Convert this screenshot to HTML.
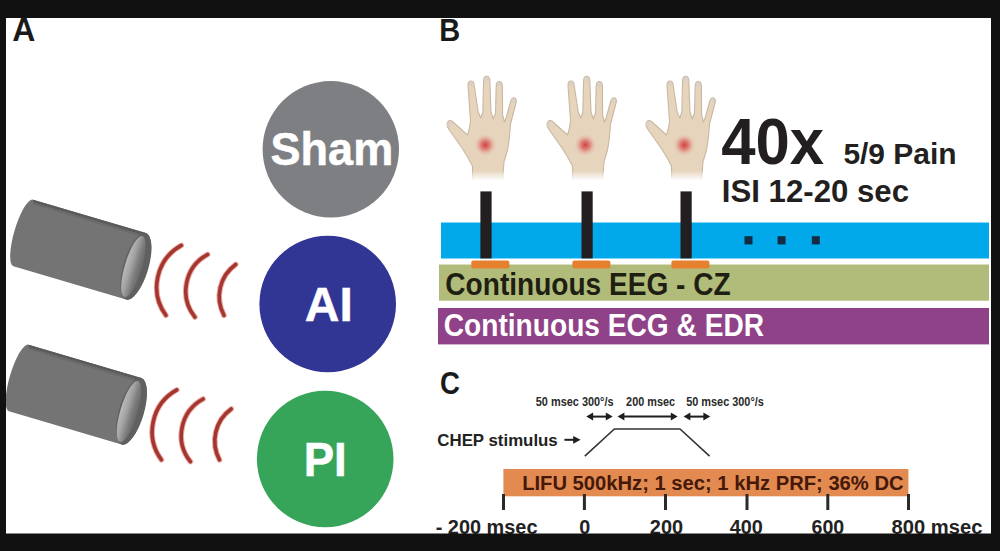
<!DOCTYPE html>
<html><head><meta charset="utf-8">
<style>
html,body{margin:0;padding:0;background:#111;}
body{width:1000px;height:551px;overflow:hidden;position:relative;}
svg{position:absolute;left:0;top:0;display:block;}
text{font-family:"Liberation Sans",sans-serif;font-weight:bold;}
</style></head><body>
<svg width="1000" height="551" viewBox="0 0 1000 551">
<defs>
  <linearGradient id="wfade" x1="0" y1="0" x2="0" y2="1">
    <stop offset="0" stop-color="#fff" stop-opacity="0"/>
    <stop offset="1" stop-color="#fff" stop-opacity="0.95"/>
  </linearGradient>
  <radialGradient id="spot" cx="0.5" cy="0.5" r="0.5">
    <stop offset="0" stop-color="#cf3a3a" stop-opacity="0.95"/>
    <stop offset="0.4" stop-color="#d9605a" stop-opacity="0.7"/>
    <stop offset="0.75" stop-color="#e4a090" stop-opacity="0.3"/>
    <stop offset="1" stop-color="#ecc8b4" stop-opacity="0"/>
  </radialGradient>
  <linearGradient id="face" x1="0" y1="0" x2="1" y2="0">
    <stop offset="0" stop-color="#bababa"/>
    <stop offset="0.35" stop-color="#a3a3a3"/>
    <stop offset="0.7" stop-color="#7c7c7c"/>
    <stop offset="1" stop-color="#686868"/>
  </linearGradient>
  <g id="cyl">
    <path d="M0,-34.7 L117.6,-34.7 A12 34.7 0 0 1 117.6 34.7 L0 34.7 A9 34.7 0 0 1 0 -34.7 Z" fill="#747475"/>
    <path d="M0,-34.7 L117.6,-34.7 L117.6,-32 L0.8,-32 Z" fill="#5a5a5a"/>
    <path d="M0.8,-32 L117.6,-32 L117.6,-30 L1.5,-30 Z" fill="#6a6a6b"/>
    <ellipse cx="117.6" cy="0" rx="12.5" ry="34.7" fill="#606060"/>
    <ellipse cx="115.2" cy="1" rx="8.6" ry="31.8" fill="url(#face)"/>
  </g>
  <g id="waves" fill="none" stroke-linecap="round">
  <g stroke="#e8aaa2" stroke-width="5.6">
    <path d="M181.3,245.4 A47.7 47.7 0 0 0 165.9 315.3"/>
    <path d="M207.6,254.5 A41.6 41.6 0 0 0 194.9 317.1"/>
    <path d="M235.7,264.5 A39.5 39.5 0 0 0 224 315.3"/>
  </g>
  <g stroke="#a5352f" stroke-width="3.6">
    <path d="M181.3,245.4 A47.7 47.7 0 0 0 165.9 315.3"/>
    <path d="M207.6,254.5 A41.6 41.6 0 0 0 194.9 317.1"/>
    <path d="M235.7,264.5 A39.5 39.5 0 0 0 224 315.3"/>
  </g>
  </g>
  <g id="hand">
    <path d="M472.7,179 L472.5,166 Q468,157 462,148 L449,129.5 Q445.5,124.5 448,121.5 Q450,119.5 452.5,121.5 L467.5,135 Q470,128 470.5,121 L468,85.5 Q468,81 471,81 Q474,81 474.2,85.5 L478.2,112 L480.8,118 L482.8,112 L483.6,80.5 Q483.8,76.3 486.7,76.3 Q489.6,76.3 489.8,80.5 L491,112 L493.3,119 L495.5,113 L496.2,86 Q496.4,81.5 499.3,81.5 Q502.2,81.5 502.4,86 L502.6,115 L504.5,122 L506.3,117.5 L510.8,101 Q511.8,97.6 514,97.8 Q516.8,98.4 516.3,102 L510.5,124 Q509.5,140 507.5,150 Q505.5,157 504,161.7 L502.6,179 Z"
      fill="#e6d4bd" stroke="#c9b8a0" stroke-width="1.1" stroke-linejoin="round"/>
    <ellipse cx="471.1" cy="84" rx="2.3" ry="2.3" fill="#d9d1c7"/>
    <ellipse cx="486.7" cy="79.2" rx="2.3" ry="2.3" fill="#d9d1c7"/>
    <ellipse cx="499.3" cy="84.3" rx="2.3" ry="2.3" fill="#d9d1c7"/>
    <ellipse cx="513.6" cy="100.5" rx="2.3" ry="2.2" fill="#d9d1c7"/>
    <ellipse cx="448.8" cy="124" rx="2.2" ry="2.2" fill="#d9d1c7"/>
    <circle cx="485.3" cy="145" r="11.5" fill="url(#spot)"/>
    <rect x="470" y="170.5" width="36" height="9.5" fill="url(#wfade)"/>
  </g>
</defs>

<!-- white canvas -->
<rect x="6" y="18" width="985" height="516" fill="#fff"/>

<!-- Panel A -->
<use href="#cyl" transform="translate(23.25,232.9) rotate(16.5)"/>
<use href="#cyl" transform="translate(18.75,377.9) rotate(16.5)"/>
<use href="#waves"/>
<use href="#waves" transform="translate(-4.5,144.5)"/>

<circle cx="330.8" cy="149.3" r="68.2" fill="#7e7f83"/>
<circle cx="327.7" cy="304" r="68.3" fill="#313594"/>
<circle cx="325.2" cy="459" r="68.3" fill="#36a55a"/>

<!-- Panel B -->
<use href="#hand"/>
<use href="#hand" transform="translate(100,0)"/>
<use href="#hand" transform="translate(199,0)"/>

<rect x="441" y="222.5" width="548" height="36" fill="#02a9ea"/>
<rect x="480.4" y="191.4" width="11.2" height="67" fill="#231f20"/>
<rect x="581.5" y="191.4" width="11.2" height="67" fill="#231f20"/>
<rect x="680.5" y="191.4" width="11.2" height="67" fill="#231f20"/>
<rect x="439" y="264.5" width="550" height="36.2" fill="#b1bb7a"/>
<rect x="471.3" y="260.5" width="38" height="8" rx="2" fill="#e5802e"/>
<rect x="572.4" y="260.5" width="38" height="8" rx="2" fill="#e5802e"/>
<rect x="671.4" y="260.5" width="38" height="8" rx="2" fill="#e5802e"/>
<rect x="438" y="308" width="551" height="36.4" fill="#904288"/>

<rect x="744.5" y="236.2" width="8" height="8.2" fill="#112c44"/>
<rect x="777.6" y="236.2" width="8" height="8.2" fill="#112c44"/>
<rect x="811.8" y="236.2" width="8" height="8.2" fill="#112c44"/>



<!-- Panel C -->

<g stroke="#1e1e1e" stroke-width="2" fill="#1e1e1e">
<line x1="592.0999999999999" y1="416.6" x2="606.8000000000001" y2="416.6"/>
<path d="M586.3,416.6 L593.0999999999999,412.6 L593.0999999999999,420.6 Z" stroke="none"/>
<path d="M612.6,416.6 L605.8000000000001,412.6 L605.8000000000001,420.6 Z" stroke="none"/>
<line x1="623.4" y1="416.6" x2="671.8000000000001" y2="416.6"/>
<path d="M617.6,416.6 L624.4,412.6 L624.4,420.6 Z" stroke="none"/>
<path d="M677.6,416.6 L670.8000000000001,412.6 L670.8000000000001,420.6 Z" stroke="none"/>
<line x1="689.4" y1="416.6" x2="704.4000000000001" y2="416.6"/>
<path d="M683.6,416.6 L690.4,412.6 L690.4,420.6 Z" stroke="none"/>
<path d="M710.2,416.6 L703.4000000000001,412.6 L703.4000000000001,420.6 Z" stroke="none"/>
<line x1="564.4" y1="439.8" x2="575" y2="439.8"/>
<path d="M580.6,439.8 L573.2,435.9 L573.2,443.7 Z" stroke="none"/>
</g>
<polyline points="584.8,456.2 614.4,429 680,429 709.6,456.2" fill="none" stroke="#333" stroke-width="1.6"/>

<rect x="503.4" y="469" width="405" height="27.3" fill="#e38a50"/>
<g fill="#2a2a2a">
  <rect x="502" y="494" width="3" height="16"/>
  <rect x="582.9" y="494" width="3" height="16"/>
  <rect x="664" y="494" width="3" height="16"/>
  <rect x="745.5" y="494" width="3" height="16"/>
  <rect x="826.3" y="494" width="3" height="16"/>
  <rect x="907" y="494" width="3" height="16"/>
</g>
<g font-size="20" fill="#222">
            </g>
<text transform="translate(270.55,164.60) scale(1,1.006)" font-size="45.06" fill="#fff" stroke="#fff" stroke-width="0.5">Sham</text>
<text transform="translate(439.36,40.90) scale(1,1.082)" font-size="29.02" fill="#1a1a1a">B</text>
<text transform="translate(721.17,163.80) scale(1,1.043)" font-size="61.73" fill="#231f20">40x</text>
<text transform="translate(843.38,163.90) scale(1,0.999)" font-size="29.97" fill="#231f20">5/9 Pain</text>
<text transform="translate(721.81,202.00) scale(1,1.002)" font-size="31.18" fill="#231f20">ISI 12-20 sec</text>
<text transform="translate(445.35,295.00) scale(1,1.093)" font-size="28.07" fill="#1e1e12">Continuous EEG - CZ</text>
<text transform="translate(443.75,336.00) scale(1,1.101)" font-size="28.13" fill="#fff">Continuous ECG &amp; EDR</text>
<text transform="translate(437.31,446.00) scale(1,1.028)" font-size="16.86" fill="#222">CHEP stimulus</text>
<text transform="translate(522.15,490.30) scale(1,1.008)" font-size="20.19" fill="#45190a">LIFU 500kHz; 1 sec; 1 kHz PRF; 36% DC</text>
<text transform="translate(535.76,405.60) scale(1,1.171)" font-size="10.93" fill="#2a2a2a">50 msec 300°/s</text>
<text transform="translate(626.12,405.60) scale(1,1.178)" font-size="10.86" fill="#2a2a2a">200 msec</text>
<text transform="translate(686.16,405.60) scale(1,1.172)" font-size="10.91" fill="#2a2a2a">50 msec 300°/s</text>
<text transform="translate(435.72,533.50) scale(1,1.023)" font-size="19.90" fill="#222">- 200 msec</text>
<text transform="translate(649.81,533.50) scale(1,1.022)" font-size="19.90" fill="#222">200</text>
<text transform="translate(729.80,533.50) scale(1,1.025)" font-size="19.85" fill="#222">400</text>
<text transform="translate(811.48,533.50) scale(1,1.037)" font-size="19.61" fill="#222">600</text>
<text transform="translate(891.56,533.50) scale(1,1.009)" font-size="20.17" fill="#222">800 msec</text>
<g fill="#fff" stroke="#fff" stroke-width="0.5"><text transform="translate(304.7,320.5) scale(1,0.985)" font-size="48">A</text><text transform="translate(339.4,320.5) scale(1,0.985)" font-size="48">I</text><text transform="translate(303.8,475.6) scale(1,1.06)" font-size="45.5">P</text><text transform="translate(334.1,475.6) scale(1,1.06)" font-size="45.5">I</text></g>
<text transform="translate(12.3,41) scale(1,1.05)" font-size="32" fill="#1a1a1a">A</text>
<text transform="translate(439.9,393.9) scale(1,1.13)" font-size="27.6" fill="#1a1a1a">C</text>
<text transform="translate(579.2,533.5) scale(1,1.03)" font-size="19.8" fill="#222">0</text>
<!-- frame -->
<g fill="#111">
<rect x="0" y="0" width="1000" height="18"/>
<rect x="0" y="533.5" width="1000" height="17.5"/>
<rect x="0" y="0" width="6" height="551"/>
<rect x="991" y="0" width="9" height="551"/>
</g>
</svg>
</body></html>
